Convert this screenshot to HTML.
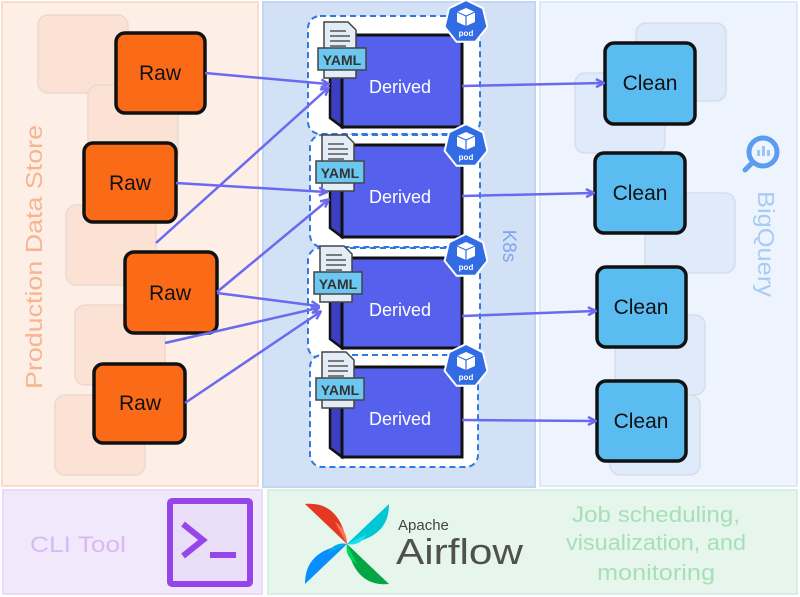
<!DOCTYPE html>
<html><head><meta charset="utf-8"><style>
html,body{margin:0;padding:0;background:#fff;}
svg{display:block;font-family:"Liberation Sans",sans-serif;}
</style></head><body>
<svg width="800" height="597" viewBox="0 0 800 597" xmlns="http://www.w3.org/2000/svg">
<defs>
<marker id="ah" markerWidth="10" markerHeight="10" refX="8" refY="5" orient="auto" markerUnits="userSpaceOnUse">
<path d="M1,1 L9,5 L1,9" fill="none" stroke="#6a6aef" stroke-width="2.5"/>
</marker>
<g id="pod">
<polygon points="0,-22 17,-13.7 21.4,4.9 9.5,19.8 -9.5,19.8 -21.4,4.9 -17,-13.7" fill="#326ce5" stroke="#fff" stroke-width="2"/>
<polygon points="0,-14 9,-10 9,0 0,4 -9,0 -9,-10" fill="#fff"/>
<path d="M-9,-10 L0,-6 L9,-10 M0,-6 L0,4" stroke="#326ce5" stroke-width="1.2" fill="none"/>
<text x="0" y="14" font-size="8" fill="#fff" text-anchor="middle" font-weight="bold">pod</text>
</g>
<g id="yaml">
<path d="M4,0 L28,0 L36,8 L36,56 L4,56 Z" fill="#e3edf7" stroke="#444" stroke-width="1.5"/>
<path d="M10,9 H26 M10,14 H30 M10,19 H30 M10,24 H26" stroke="#555" stroke-width="1.5"/>
<rect x="-2" y="26" width="48" height="22" fill="#6cc8f0" stroke="#444" stroke-width="1.5"/>
<text x="22" y="43" font-size="14" font-weight="bold" fill="#333" text-anchor="middle">YAML</text>
</g>
</defs>

<rect x="2" y="2" width="256" height="484" fill="#fdeee6" stroke="#fbdccc" stroke-width="2"/>
<rect x="263" y="2" width="272" height="485" fill="#d3e1f7" stroke="#c3d5f3" stroke-width="2"/>
<rect x="540" y="2" width="257" height="484" fill="#eef4fd" stroke="#dde8fb" stroke-width="2"/>
<rect x="3" y="490" width="259" height="104" fill="#f1e8fb" stroke="#eadcf9" stroke-width="2"/>
<rect x="268" y="490" width="529" height="104" fill="#e6f6ec" stroke="#d6f0e4" stroke-width="2"/>

<g fill="#fbe0d2" stroke="#e8d4cc" stroke-width="1.5" opacity="0.8">
<rect x="38" y="15" width="90" height="78" rx="10"/>
<rect x="88" y="85" width="90" height="80" rx="10"/>
<rect x="66" y="205" width="90" height="80" rx="10"/>
<rect x="75" y="305" width="90" height="80" rx="10"/>
<rect x="55" y="395" width="90" height="80" rx="10"/>
</g>
<g fill="#dfeafb" stroke="#d6dde8" stroke-width="1.5">
<rect x="636" y="23" width="90" height="78" rx="10"/>
<rect x="575" y="73" width="90" height="80" rx="10"/>
<rect x="645" y="193" width="90" height="80" rx="10"/>
<rect x="615" y="315" width="90" height="80" rx="10"/>
<rect x="610" y="395" width="90" height="80" rx="10"/>
</g>

<text transform="translate(42,257) rotate(-90)" font-size="23" fill="#f8b490" text-anchor="middle" textLength="264" lengthAdjust="spacingAndGlyphs">Production Data Store</text>
<text transform="translate(503,246) rotate(90)" font-size="19" fill="#7ea6ec" text-anchor="middle">K8s</text>
<text transform="translate(758,244) rotate(90)" font-size="23" fill="#a8cbf6" text-anchor="middle" textLength="106" lengthAdjust="spacingAndGlyphs">BigQuery</text>
<g transform="translate(763,152)">
<circle r="14" fill="none" stroke="#5b9cf0" stroke-width="5"/>
<path d="M-10,10 L-18,18" stroke="#5b9cf0" stroke-width="5" stroke-linecap="round"/>
<rect x="-6" y="-2" width="3" height="6" fill="#9ec4f6"/><rect x="-1" y="-6" width="3" height="10" fill="#9ec4f6"/><rect x="4" y="-2" width="3" height="6" fill="#9ec4f6"/>
</g>

<g fill="#fff" stroke="#2f7ae0" stroke-width="2" stroke-dasharray="6,4">
<rect x="308" y="16" width="172" height="118" rx="12"/>
<rect x="310" y="135" width="170" height="112" rx="12"/>
<rect x="308" y="248" width="172" height="110" rx="12"/>
<rect x="310" y="355" width="168" height="112" rx="12"/>
</g>

<g>
<g transform="translate(0,0)">
<polygon points="330,40 342,35 342,127 330,118" fill="#3b3fc0" stroke="#111" stroke-width="2.5"/>
<rect x="342" y="35" width="120" height="92" fill="#5560ed" stroke="#111" stroke-width="3"/>
<text x="400" y="93" font-size="18" fill="#fff" text-anchor="middle">Derived</text>
</g>
<g transform="translate(0,110)">
<polygon points="330,40 342,35 342,127 330,118" fill="#3b3fc0" stroke="#111" stroke-width="2.5"/>
<rect x="342" y="35" width="120" height="92" fill="#5560ed" stroke="#111" stroke-width="3"/>
<text x="400" y="93" font-size="18" fill="#fff" text-anchor="middle">Derived</text>
</g>
<g transform="translate(0,223)">
<polygon points="330,40 342,35 342,125 330,116" fill="#3b3fc0" stroke="#111" stroke-width="2.5"/>
<rect x="342" y="35" width="120" height="90" fill="#5560ed" stroke="#111" stroke-width="3"/>
<text x="400" y="93" font-size="18" fill="#fff" text-anchor="middle">Derived</text>
</g>
<g transform="translate(0,332)">
<polygon points="330,40 342,35 342,125 330,116" fill="#3b3fc0" stroke="#111" stroke-width="2.5"/>
<rect x="342" y="35" width="120" height="90" fill="#5560ed" stroke="#111" stroke-width="3"/>
<text x="400" y="93" font-size="18" fill="#fff" text-anchor="middle">Derived</text>
</g>
</g>

<use href="#yaml" x="320" y="22"/>
<use href="#yaml" x="318" y="135"/>
<use href="#yaml" x="316" y="246"/>
<use href="#yaml" x="318" y="352"/>
<use href="#pod" x="466" y="22"/>
<use href="#pod" x="466" y="146"/>
<use href="#pod" x="466" y="256"/>
<use href="#pod" x="466" y="366"/>

<g fill="#fa6a17" stroke="#111" stroke-width="3.5">
<rect x="116" y="33" width="89" height="80" rx="9"/>
<rect x="84" y="143" width="92" height="79" rx="9"/>
<rect x="125" y="252" width="92" height="81" rx="9"/>
<rect x="94" y="364" width="91" height="79" rx="9"/>
</g>
<g font-size="21" fill="#111" text-anchor="middle">
<text x="160" y="80">Raw</text>
<text x="130" y="190">Raw</text>
<text x="170" y="300">Raw</text>
<text x="140" y="410">Raw</text>
</g>

<g fill="#5bbcf2" stroke="#111" stroke-width="3.5">
<rect x="605" y="43" width="90" height="81" rx="9"/>
<rect x="595" y="153" width="90" height="80" rx="9"/>
<rect x="597" y="267" width="89" height="80" rx="9"/>
<rect x="597" y="381" width="89" height="80" rx="9"/>
</g>
<g font-size="21" fill="#111" text-anchor="middle">
<text x="650" y="90">Clean</text>
<text x="640" y="200">Clean</text>
<text x="641" y="314">Clean</text>
<text x="641" y="428">Clean</text>
</g>

<g stroke="#6a6aef" stroke-width="2.5" fill="none" marker-end="url(#ah)">
<path d="M205,73 L328,84"/>
<path d="M156,243 L328,88"/>
<path d="M176,183 L326,192"/>
<path d="M217,292 L328,200"/>
<path d="M217,293 L318,306"/>
<path d="M165,343 L318,308"/>
<path d="M185,403 L320,312"/>
<path d="M462,86 L603,83"/>
<path d="M462,196 L593,193"/>
<path d="M462,316 L595,311"/>
<path d="M462,420 L595,421"/>
</g>

<text x="78" y="552" font-size="22" fill="#d7b9f5" text-anchor="middle" textLength="96" lengthAdjust="spacingAndGlyphs">CLI Tool</text>
<rect x="170" y="501" width="80" height="83" fill="#e9ddf7" stroke="#9645eb" stroke-width="6" rx="2"/>
<path d="M183,524 L203,540 L183,556" fill="none" stroke="#9645eb" stroke-width="6"/>
<rect x="210" y="552" width="26" height="6" fill="#9645eb"/>

<g transform="translate(347,544)">
<path d="M0,0 L-42,-40 C-20,-42 -5,-30 0,0Z" fill="#e43921"/>
<path d="M0,0 L-12,-22 C-5,-18 0,-10 0,0Z" fill="#ff7557"/>
<path d="M0,0 L42,-40 C42,-18 30,-5 0,0Z" fill="#00c7d4"/>
<path d="M0,0 L42,40 C20,42 5,30 0,0Z" fill="#04a544"/>
<path d="M0,0 L-42,40 C-42,18 -30,5 0,0Z" fill="#0a8dff"/>
<path d="M0,0 L20,-10 C16,-2 8,2 0,0Z" fill="#11e1ee"/>
<path d="M0,0 L-20,10 C-16,2 -8,-2 0,0Z" fill="#00ade6"/>
<path d="M0,0 L10,20 C2,16 -2,8 0,0Z" fill="#00d65e"/>
</g>
<text x="398" y="530" font-size="15" fill="#444">Apache</text>
<text x="396" y="564" font-size="36" fill="#505050" textLength="127" lengthAdjust="spacingAndGlyphs">Airflow</text>
<g font-size="22" fill="#a6e0b8" text-anchor="middle">
<text x="656" y="522" textLength="168" lengthAdjust="spacingAndGlyphs">Job scheduling,</text>
<text x="656" y="550" textLength="180" lengthAdjust="spacingAndGlyphs">visualization, and</text>
<text x="656" y="580" textLength="118" lengthAdjust="spacingAndGlyphs">monitoring</text>
</g>
</svg>
</body></html>
